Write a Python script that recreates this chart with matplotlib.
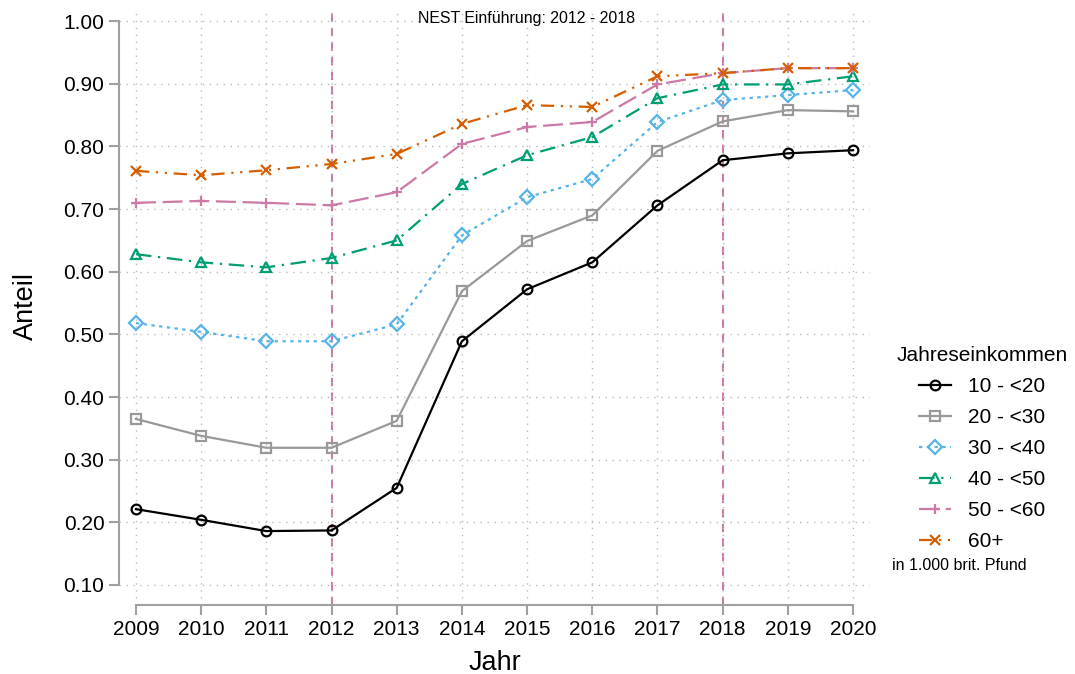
import matplotlib
matplotlib.use("Agg")
import matplotlib.pyplot as plt

plt.rcParams["font.family"] = ["Liberation Sans", "DejaVu Sans"]

years = [2009, 2010, 2011, 2012, 2013, 2014, 2015, 2016, 2017, 2018, 2019, 2020]
inc_10_20 = [0.221, 0.204, 0.186, 0.187, 0.255, 0.489, 0.572, 0.615, 0.706, 0.778, 0.789, 0.794]
inc_20_30 = [0.365, 0.338, 0.319, 0.319, 0.362, 0.569, 0.649, 0.690, 0.793, 0.840, 0.858, 0.856]
inc_30_40 = [0.518, 0.504, 0.489, 0.489, 0.516, 0.658, 0.719, 0.748, 0.839, 0.874, 0.882, 0.890]
inc_40_50 = [0.628, 0.615, 0.607, 0.622, 0.650, 0.740, 0.786, 0.815, 0.877, 0.899, 0.899, 0.912]
inc_50_60 = [0.710, 0.713, 0.710, 0.706, 0.727, 0.804, 0.831, 0.839, 0.899, 0.917, 0.925, 0.925]
inc_60p = [0.761, 0.754, 0.762, 0.772, 0.788, 0.836, 0.866, 0.863, 0.912, 0.917, 0.925, 0.925]
labels = ["10 - <20", "20 - <30", "30 - <40", "40 - <50", "50 - <60", "60+"]
nest_years = [2012, 2018]
yticks = [0.1, 0.2, 0.3, 0.4, 0.5, 0.6, 0.7, 0.8, 0.9, 1.0]

series = [inc_10_20, inc_20_30, inc_30_40, inc_40_50, inc_50_60, inc_60p]
styles = [
    ("black", "-", "o"),
    ("#999999", "-", "s"),
    ("#56B4E9", (0, (1.5, 2)), "D"),
    ("#009E73", (0, (7, 3, 1, 3)), "^"),
    ("#CC79A7", (0, (9, 3)), "+"),
    ("#D55E00", (0, (6, 3, 1, 3, 1, 3)), "x"),
]

fig = plt.figure(figsize=(10.75, 6.74), dpi=100)
ax = fig.add_axes([119 / 1075, 69 / 674, 751 / 1075, 597 / 674])

for x in nest_years:
    ax.axvline(x, color="#CC79A7", linestyle=(0, (4, 3)), linewidth=1.5, zorder=1)

for vals, lab, (col, ls, mk) in zip(series, labels, styles):
    ms = 7 if mk in "oDs" else 7.5
    ax.plot(years, vals, color=col, linestyle=ls, linewidth=1.6, marker=mk,
            markersize=ms, markerfacecolor="none", markeredgecolor=col,
            markeredgewidth=1.6, label=lab, zorder=3)

ax.set_xlim(2008.74, 2020.26)
ax.set_ylim(0.068, 1.021)
ax.set_xticks(years)
ax.set_yticks(yticks)
ax.set_yticklabels([f"{v:.2f}" for v in yticks])
ax.grid(True, linestyle=(0, (1, 4)), color="#bbbbbb", linewidth=1.0, zorder=0)

for s in ["top", "right"]:
    ax.spines[s].set_visible(False)
ax.spines["left"].set_bounds(0.1, 1.0)
ax.spines["bottom"].set_bounds(2009, 2020)
for s in ["left", "bottom"]:
    ax.spines[s].set_color("#a0a0a0")
    ax.spines[s].set_linewidth(1.5)
ax.tick_params(axis="both", colors="#a0a0a0", width=1.5, length=7,
               labelcolor="black", labelsize=15)

ax.set_xlabel("Jahr", fontsize=19.5, labelpad=8)
ax.set_ylabel("Anteil", fontsize=19.5, labelpad=18)

fig.text(527 / 1075, 1 - 18 / 674, "NEST Einführung: 2012 - 2018",
         ha="center", va="center", fontsize=11.4)

leg = fig.legend(loc="upper left", bbox_to_anchor=(878 / 1075, 1 - 327 / 674),
                 frameon=False, fontsize=15, title="Jahreseinkommen",
                 title_fontsize=15, handlelength=1.5, labelspacing=0.58,
                 handletextpad=0.85)
fig.text(892 / 1075, 1 - 566 / 674, "in 1.000 brit. Pfund", fontsize=11.5,
         ha="left", va="center")

fig.savefig("out.png", dpi=100)
